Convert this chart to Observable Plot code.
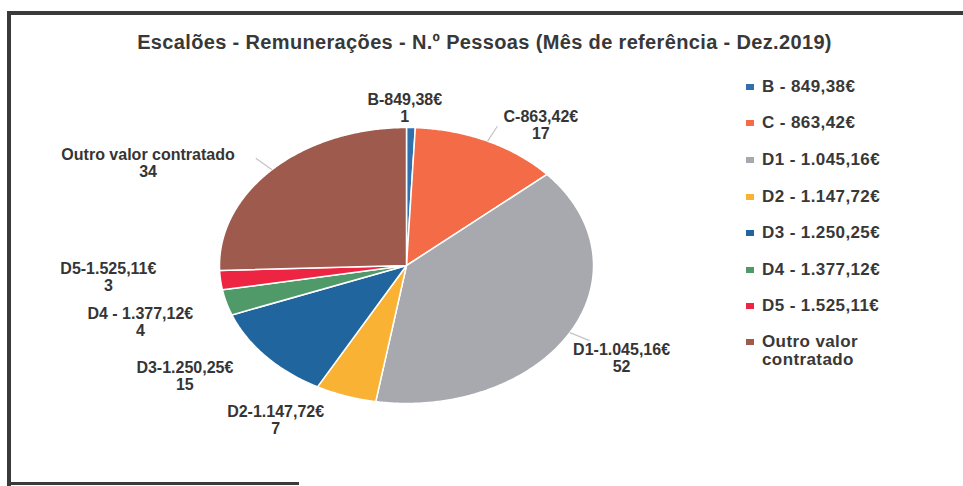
<!DOCTYPE html>
<html>
<head>
<meta charset="utf-8">
<script src="https://cdn.jsdelivr.net/npm/d3@7"></script>
<script src="https://cdn.jsdelivr.net/npm/@observablehq/plot@0.6"></script>
<style>
  html, body { margin: 0; padding: 0; background: #fff; }
  #wrap { position: relative; width: 963px; height: 486px; overflow: hidden; font-family: "Liberation Sans", Arial, sans-serif; color: #383838; }
  #frame { position: absolute; left: 7px; top: 11px; width: 960px; height: 480px; border-top: 4px solid #3a3a3a; border-left: 4px solid #3a3a3a; box-sizing: border-box; }
  #bottomline { position: absolute; left: 9px; top: 482px; width: 290px; height: 3px; background: #3a3a3a; }
  #title { position: absolute; top: 30px; left: 3px; width: 963px; text-align: center; font-weight: bold; font-size: 20px; letter-spacing: 0.35px; line-height: 24px; }
  #chart { position: absolute; top: 62px; left: 0; }
  #legend { position: absolute; left: 746px; top: 76px; }
  .row { position: absolute; left: 0; display: flex; align-items: flex-start; font-weight: bold; font-size: 17px; line-height: 18px; white-space: nowrap; letter-spacing: 0.4px; }
  .sw { width: 8px; height: 6px; margin-top: 6px; margin-right: 8px; flex: none; }
</style>
</head>
<body>
<div id="wrap">
  <div id="frame"></div>
  <div id="bottomline"></div>
  <div id="title">Escalões - Remunerações - N.º Pessoas (Mês de referência - Dez.2019)</div>
  <div id="chart"></div>
  <div id="legend"></div>
</div>
<script>
// ---- data ----
const categories = ["B", "C", "D1", "D2", "D3", "D4", "D5", "Outro valor contratado"];
const labelNames = ["B-849,38€", "C-863,42€", "D1-1.045,16€", "D2-1.147,72€", "D3-1.250,25€", "D4 - 1.377,12€", "D5-1.525,11€", "Outro valor contratado"];
const legendNames = ["B - 849,38€", "C - 863,42€", "D1 - 1.045,16€", "D2 - 1.147,72€", "D3 - 1.250,25€", "D4 - 1.377,12€", "D5 - 1.525,11€", "Outro valor\ncontratado"];
const values = [1, 17, 52, 7, 15, 4, 3, 34];
const colors = ["#2f70ad", "#f46b48", "#a7a9ae", "#f9b234", "#21659f", "#4f9a68", "#ee2443", "#9e5a4c"];

// ---- style (pixel nudges for data labels, leader lines) ----
const labelNudges = [[-7, 8], [37, 9], [19, 12], [-58, -2], [-53, 1], [-50, 12], [-75, -6], [-97, 13]];
const leaders = ["C", "D1", "Outro valor contratado"];

// ---- geometry via d3.pie (angles from values) ----
const arcs = d3.pie().sort(null).value(d => d)(values);
const slices = [];
arcs.forEach((a, i) => {
  const name = categories[i];
  slices.push({name, x: 0, y: 0});
  const n = Math.max(2, Math.ceil((a.endAngle - a.startAngle) / (Math.PI / 360)));
  for (let k = 0; k <= n; k++) {
    const t = a.startAngle + (a.endAngle - a.startAngle) * k / n;
    slices.push({name, x: Math.sin(t), y: Math.cos(t)});
  }
});
const mids = arcs.map((a, i) => ({name: categories[i], label: labelNames[i] + "\n" + values[i], t: (a.startAngle + a.endAngle) / 2}));
const labelR = 1.2;
const links = mids.filter(d => leaders.includes(d.name)).map(d => ({
  x1: Math.sin(d.t) * 1.0, y1: Math.cos(d.t) * 1.0,
  x2: Math.sin(d.t) * 1.12, y2: Math.cos(d.t) * 1.12
}));

const cx = 406, cy = 203, rx = 187, ry = 138;
const marks = [
  Plot.line(slices, {x: "x", y: "y", z: "name", fill: "name", stroke: "white", strokeWidth: 1.5, curve: "linear-closed"}),
  Plot.link(links, {x1: "x1", y1: "y1", x2: "x2", y2: "y2", stroke: "#c4c4c4", strokeWidth: 1.2})
];
mids.forEach((d, i) => {
  marks.push(Plot.text([d], {
    x: m => Math.sin(m.t) * labelR, y: m => Math.cos(m.t) * labelR, text: "label",
    dx: labelNudges[i][0], dy: labelNudges[i][1],
    fontFamily: "Liberation Sans, Arial, sans-serif", fontWeight: "bold", fontSize: 16,
    lineHeight: 1.05, fill: "#353535", textAnchor: "middle"
  }));
});

const chart = Plot.plot({
  width: 963,
  height: 424,
  x: {domain: [-1, 1], range: [cx - rx, cx + rx], axis: null},
  y: {domain: [-1, 1], range: [cy + ry, cy - ry], axis: null},
  color: {domain: categories, range: colors},
  style: {background: "transparent", overflow: "visible"},
  marks
});
document.getElementById("chart").appendChild(chart);

// ---- legend (from same arrays / color scale) ----
const rowTops = [78, 114, 151, 188, 224, 261, 297, 333];
const leg = document.getElementById("legend");
legendNames.forEach((name, i) => {
  const row = document.createElement("div");
  row.className = "row";
  row.style.top = (rowTops[i] - 76) + "px";
  const sw = document.createElement("div");
  sw.className = "sw";
  sw.style.background = colors[i];
  const tx = document.createElement("div");
  tx.innerHTML = name.replace("\n", "<br>");
  row.appendChild(sw);
  row.appendChild(tx);
  leg.appendChild(row);
});
</script>
</body>
</html>
